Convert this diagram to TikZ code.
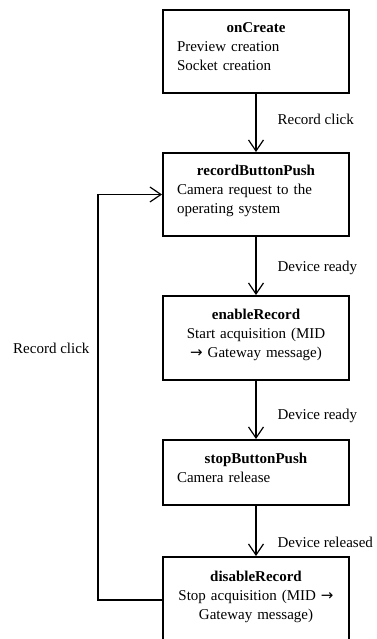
\documentclass[tikz,border=0pt]{standalone}
\usepackage{fontspec}
\setmainfont{Liberation Serif}
\newfontfamily\arrowfont{DejaVu Sans}
\usetikzlibrary{arrows.meta}

\begin{document}
\begin{tikzpicture}[x=1pt, y=-1pt, line width=1.2pt, >={Straight Barb[length=11pt,width=15pt]},
  state/.style={draw, line width=2pt, anchor=north, text width=158pt, inner xsep=14pt, inner ysep=0pt,
    align=left, text depth=48pt, font=\fontsize{15}{19}\selectfont},
  lbl/.style={anchor=west, xshift=21pt, inner sep=0pt, font=\fontsize{15}{19}\selectfont}]

\useasboundingbox (0,0) rectangle (376,639);

% states
\node[state, minimum height=83pt] (oncreate) at (256,9)
  {\makebox[158pt]{\textbf{onCreate}}\\ Preview creation\\ Socket creation};
\node[state, minimum height=83pt] (record) at (256,152)
  {\makebox[158pt]{\textbf{recordButtonPush}}\\ Camera request to the\\ operating system};
\node[state, minimum height=84pt, align=center] (enable) at (256,295)
  {\textbf{enableRecord}\\ Start acquisition (MID\\ {\arrowfont →} Gateway message)};
\node[state, minimum height=65pt, text depth=29pt] (stop) at (256,439)
  {\makebox[158pt]{\textbf{stopButtonPush}}\\ Camera release};
\node[state, minimum height=86pt, align=center] (disable) at (256,556)
  {\textbf{disableRecord}\\ Stop acquisition (MID {\arrowfont →}\\ Gateway message)};

% transitions
\draw[->] (oncreate) -- (record) node[lbl, pos=.43] {Record click};
\draw[->] (record) -- (enable) node[lbl, pos=.53] {Device ready};
\draw[->] (enable) -- (stop) node[lbl, pos=.6] {Device ready};
\draw[->] (stop) -- (disable) node[lbl, pos=.73] {Device released};
\draw[->] (disable.west) -- ++(-64,0) |- (record.west)
  node[lbl, anchor=east, xshift=-29pt, pos=.31] {Record click};

\end{tikzpicture}
\end{document}
